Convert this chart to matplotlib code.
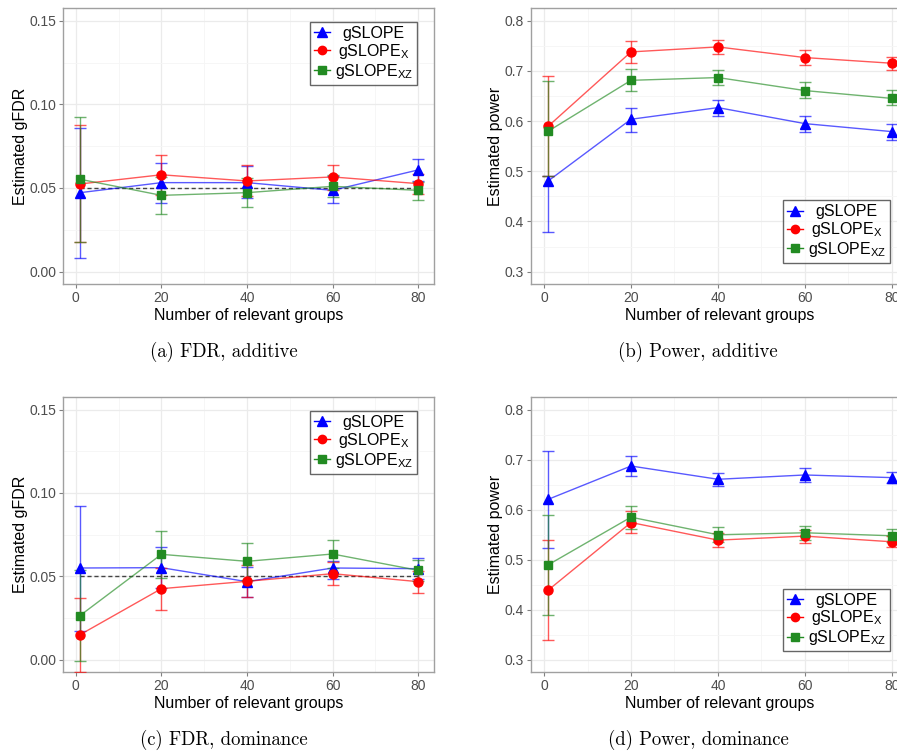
import matplotlib
matplotlib.use("Agg")
import matplotlib.pyplot as plt
from matplotlib.lines import Line2D

plt.rcParams['font.family'] = ['Liberation Sans', 'DejaVu Sans']
plt.rcParams['mathtext.default'] = 'regular'

# number of relevant groups
groups = [1, 20, 40, 60, 80]

methods = ['gSLOPE', 'gSLOPE$_{X}$', 'gSLOPE$_{XZ}$']
colors = ['#0000ff', '#ff0000', '#228b22']
markers = ['^', 'o', 's']
msizes = [7, 6.5, 5.8]

# (a) FDR, additive: mean, lower, upper
fdr_add_mean = [[0.0472, 0.0532, 0.0532, 0.0486, 0.0608],
                [0.0524, 0.0579, 0.0542, 0.0566, 0.0526],
                [0.0552, 0.0456, 0.0472, 0.0510, 0.0486]]
fdr_add_low = [[0.0080, 0.0412, 0.0440, 0.0410, 0.0540],
               [0.0175, 0.0460, 0.0450, 0.0490, 0.0462],
               [0.0175, 0.0346, 0.0385, 0.0448, 0.0427]]
fdr_add_up = [[0.0857, 0.0649, 0.0633, 0.0570, 0.0675],
              [0.0877, 0.0697, 0.0636, 0.0639, 0.0585],
              [0.0924, 0.0565, 0.0560, 0.0580, 0.0535]]

# (b) Power, additive
pow_add_mean = [[0.481, 0.6035, 0.6267, 0.5948, 0.5789],
                [0.590, 0.7376, 0.7475, 0.7263, 0.7150],
                [0.580, 0.6810, 0.6865, 0.6606, 0.6450]]
pow_add_low = [[0.380, 0.578, 0.610, 0.578, 0.562],
               [0.491, 0.7157, 0.733, 0.7117, 0.701],
               [0.490, 0.659, 0.671, 0.645, 0.631]]
pow_add_up = [[0.490, 0.626, 0.642, 0.610, 0.595],
              [0.689, 0.7595, 0.761, 0.741, 0.728],
              [0.680, 0.703, 0.7024, 0.678, 0.661]]

# (c) FDR, dominance
fdr_dom_mean = [[0.0550, 0.0552, 0.0468, 0.0550, 0.0546],
                [0.0150, 0.0426, 0.0470, 0.0516, 0.0468],
                [0.0265, 0.0632, 0.0590, 0.0634, 0.0536]]
fdr_dom_low = [[0.0175, 0.0430, 0.0377, 0.0482, 0.0482],
               [-0.0075, 0.0297, 0.0375, 0.0448, 0.0402],
               [-0.0010, 0.0490, 0.0480, 0.0550, 0.0470]]
fdr_dom_up = [[0.0922, 0.0677, 0.0554, 0.0590, 0.0610],
              [0.0373, 0.0550, 0.0570, 0.0588, 0.0530],
              [0.0540, 0.0771, 0.0703, 0.0720, 0.0600]]

# (d) Power, dominance
pow_dom_mean = [[0.6207, 0.6871, 0.6606, 0.6692, 0.6639],
                [0.4394, 0.5742, 0.5390, 0.5470, 0.5357],
                [0.4899, 0.5849, 0.5497, 0.5537, 0.5477]]
pow_dom_low = [[0.5224, 0.6665, 0.6466, 0.6559, 0.6526],
               [0.3398, 0.5523, 0.5244, 0.5330, 0.5244],
               [0.3890, 0.5620, 0.5350, 0.5400, 0.5350]]
pow_dom_up = [[0.7170, 0.7077, 0.6738, 0.6831, 0.6752],
              [0.5397, 0.5975, 0.5530, 0.5600, 0.5480],
              [0.5902, 0.6074, 0.5643, 0.5676, 0.5603]]

captions = ['(a) FDR, additive', '(b) Power, additive',
            '(c) FDR, dominance', '(d) Power, dominance']

W, H = 897, 756
fig = plt.figure(figsize=(W / 100, H / 100), dpi=100)
legends = []


def px_axes(l, t, r, b):
    return fig.add_axes([l / W, 1 - b / H, (r - l) / W, (b - t) / H])


def panel(ax, mean, low, up, fdr):
    for i in range(3):
        yerr = [[m - lo for m, lo in zip(mean[i], low[i])],
                [u - m for m, u in zip(mean[i], up[i])]]
        ax.errorbar(groups, mean[i], yerr=yerr, color=colors[i], lw=1.0,
                    elinewidth=1.0, capsize=4, capthick=1.0, alpha=0.65,
                    fmt='-', zorder=2 + i)
        ax.plot(groups, mean[i], ls='none', marker=markers[i], ms=msizes[i],
                color=colors[i], zorder=5 + i)
    if fdr:
        ax.plot([groups[0], groups[-1]], [0.05, 0.05], ls='--', color='#444444',
                lw=1.0, dashes=(3, 2), zorder=1.5)
        ax.set_ylim(-0.0074, 0.1576)
        ax.set_yticks([0.0, 0.05, 0.10, 0.15])
        ax.set_yticks([0.025, 0.075, 0.125], minor=True)
        ax.set_yticklabels(['0.00', '0.05', '0.10', '0.15'])
        ax.set_ylabel('Estimated gFDR', fontsize=11.5, labelpad=1)
    else:
        ax.set_ylim(0.2755, 0.825)
        ax.set_yticks([0.3, 0.4, 0.5, 0.6, 0.7, 0.8])
        ax.set_yticks([0.35, 0.45, 0.55, 0.65, 0.75], minor=True)
        ax.set_ylabel('Estimated power', fontsize=11.5, labelpad=1)
    ax.set_xlim(-3.0, 83.7)
    ax.set_xticks([0, 20, 40, 60, 80])
    ax.set_xticks([10, 30, 50, 70], minor=True)
    ax.set_xlabel('Number of relevant groups', fontsize=11.5, labelpad=2)
    ax.grid(which='major', color='#ebebeb', lw=0.9, zorder=0)
    ax.grid(which='minor', color='#f5f5f5', lw=0.6, zorder=0)
    ax.set_axisbelow(True)
    for s in ax.spines.values():
        s.set_color('#a0a0a0')
        s.set_linewidth(1.0)
    ax.tick_params(which='major', length=3, color='#808080', labelsize=10,
                   labelcolor='#4d4d4d', pad=2)
    ax.tick_params(which='minor', length=0)

    handles = [Line2D([], [], color=colors[i], marker=markers[i],
                      ms=msizes[i] - 0.5, lw=1.0) for i in range(3)]
    if fdr:
        loc, anchor = 'upper right', (0.954, 0.949)
    else:
        loc, anchor = 'lower right', (0.952, 0.076)
    leg = ax.legend(handles, methods, loc=loc, bbox_to_anchor=anchor,
                    fontsize=11.5, frameon=True, fancybox=False,
                    edgecolor='#404040', handlelength=1.0, handletextpad=0.3,
                    labelspacing=0.05, borderpad=0.25, borderaxespad=0)
    leg.get_frame().set_linewidth(1.0)
    legends.append(leg)


data = [(fdr_add_mean, fdr_add_low, fdr_add_up, True),
        (pow_add_mean, pow_add_low, pow_add_up, False),
        (fdr_dom_mean, fdr_dom_low, fdr_dom_up, True),
        (pow_dom_mean, pow_dom_low, pow_dom_up, False)]

boxes = [(63, 8, 434, 284), (531, 8, 908, 284),
         (63, 397, 434, 672), (531, 397, 908, 672)]
cap_pos = [(224, 352), (698, 352), (224, 740), (698, 740)]

for k in range(4):
    ax = px_axes(*boxes[k])
    mean, low, up, fdr = data[k]
    panel(ax, mean, low, up, fdr)
    fig.text(cap_pos[k][0] / W, 1 - cap_pos[k][1] / H, captions[k],
             family=['cmr10', 'DejaVu Serif'], fontsize=13.5,
             ha='center', va='center')

# centre the legend labels inside the legend box
renderer = fig.canvas.get_renderer()
for leg in legends:
    texts = leg.get_texts()
    widths = [t.get_window_extent(renderer).width for t in texts]
    for t, w in zip(texts, widths):
        t.set_position(((max(widths) - w) / 2, 0))

fig.savefig('out.png', dpi=100)
